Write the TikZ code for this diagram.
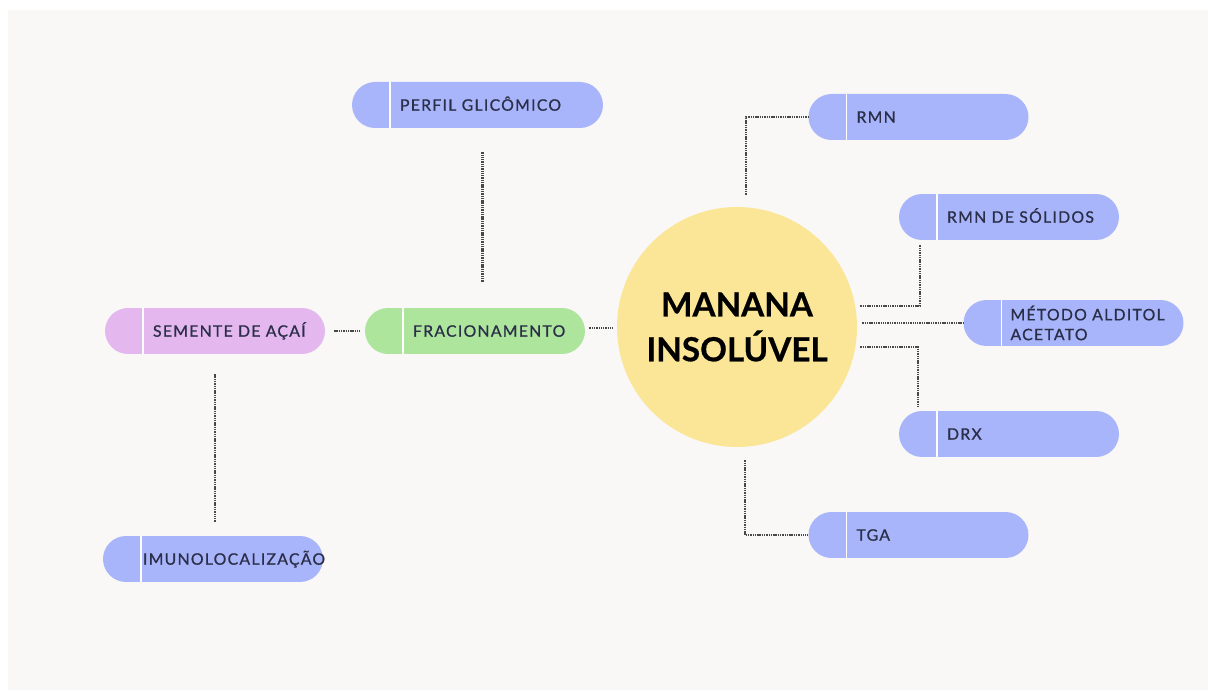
\documentclass[tikz,border=0pt]{standalone}
\usepackage{fontspec}
\usepackage{tikz}
\tikzset{>=latex}
\usetikzlibrary{calc,positioning}
\newfontfamily\pillfont[LetterSpace=8, FakeBold=0.8]{Lato}
\newfontfamily\titlefont[FakeBold=0.6]{Lato}
\definecolor{bgpaper}{HTML}{F9F8F6}
\definecolor{pillblue}{HTML}{A9B5FA}
\definecolor{pillpink}{HTML}{E4B7EF}
\definecolor{pillgreen}{HTML}{AEE59D}
\definecolor{sunyellow}{HTML}{FBE597}
\definecolor{inkblue}{HTML}{2A2E48}
\definecolor{dotgray}{HTML}{484848}
\tikzset{
  pill/.style={rectangle, rounded corners=0.46cm, minimum width=4.4cm, minimum height=0.92cm,
    inner sep=0pt, fill=pillblue,
    path picture={\draw[white, line width=1pt] ($(path picture bounding box.south west)+(38,0)$) -- ($(path picture bounding box.north west)+(38,0)$);}},
  pilltext/.style={inner sep=0pt, text=inkblue, font=\pillfont\fontsize{9}{11.3}\selectfont, align=left},
  oneline/.style={text height=6.5pt, text depth=0pt},
  dots/.style={draw=dotgray, line width=1.3pt, dash pattern=on 0.8pt off 0.5pt}
}

\begin{document}
\begin{tikzpicture}[x=0.02cm, y=-0.02cm]
            \fill[white] (0,0) rectangle (1208,692);
            \fill[bgpaper] (8,10) rectangle (1208,690);

            \node[circle, fill=sunyellow, minimum size=4.8cm, inner sep=0pt, align=center,
                  font=\titlefont\bfseries\fontsize{18.9}{25.5}\selectfont] (manana) at (737,327) {MANANA\\INSOLÚVEL};

            \node[pill, fill=pillpink] (semente) at (215,331) {};
            \node[pill, fill=pillgreen] (frac) at (475,331) {};
            \node[pill, minimum width=5.02cm] (perfil) at (477.5,105) {};
            \node[pill] (imuno) at (213,559) {};

            \foreach \n/\x/\y in {rmn/918.5/117, rmnsol/1009/217, metodo/1073.5/323, drx/1009/434, tga/918.5/535}
            \node[pill] (\n) at (\x,\y) {};

            \foreach \n/\txt in {semente/SEMENTE DE AÇAÍ, frac/FRACIONAMENTO, perfil/PERFIL GLICÔMICO,
                                 rmn/RMN, rmnsol/RMN DE SÓLIDOS, drx/DRX, tga/TGA}
            \node[pilltext, oneline, right=0.96cm of \n.west] (\n-t) {\txt};
            \node[pilltext, oneline, right=0.8cm of imuno.west] (imuno-t) {IMUNOLOCALIZAÇÃO};
            \node[pilltext, right=0.94cm of metodo.west] (metodo-t) {MÉTODO ALDITOL\\ACETATO};

            \draw[dots, shorten <=13.6pt, shorten >=14.7pt] ([xshift=0.1cm]perfil.south) -- ([xshift=0.1cm]perfil.south |- frac.north);
            \draw[dots, shorten <=5pt, shorten >=3pt] (semente.east) -- (frac.west);
            \draw[dots, shorten <=2.3pt, shorten >=2.3pt] ([yshift=0.06cm]frac.east) -- ([yshift=0.06cm]frac.east -| manana.west);
            \draw[dots, shorten <=11.3pt, shorten >=7.9pt] (semente.south) -- (semente.south |- imuno.north);

            \draw[dots] ([shift={(9,-12)}]manana.north) |- (rmn.west);
            \draw[dots] ([shift={(3,-21)}]manana.east) -| ([shift={(-89,5)}]rmnsol.south);
            \draw[dots, shorten <=2.8pt] (manana.east |- metodo.west) -- (metodo.west);
            \draw[dots] ([shift={(3,20)}]manana.east) -| ([shift={(-91,-3)}]drx.north);
            \draw[dots] ([shift={(8,13)}]manana.south) |- (tga.west);
\end{tikzpicture}
\end{document}
